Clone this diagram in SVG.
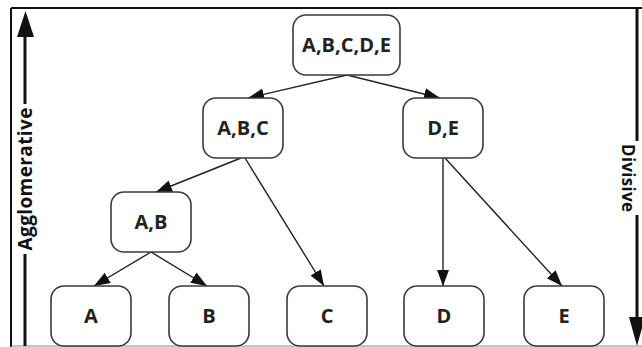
<svg xmlns="http://www.w3.org/2000/svg" width="642" height="347" viewBox="0 0 642 347">
<defs>
<style>
.box{fill:#fff;stroke:#3a3a3a;stroke-width:1.6}
.lbl{font-family:"Open Sans","Liberation Sans",sans-serif;font-weight:700;font-size:20px;fill:#222;text-anchor:middle}
.edge{stroke:#222;stroke-width:1.4;fill:none;marker-end:url(#ah)}
.axis{stroke:#111;stroke-width:3;fill:none}
.axlbl{font-family:"Open Sans","Liberation Sans",sans-serif;font-weight:700;font-size:19px;fill:#111;text-anchor:middle}
</style>
<marker id="ah" markerUnits="userSpaceOnUse" markerWidth="17" markerHeight="13" refX="16" refY="6.5" orient="auto">
<path d="M0,0.5 L16,6.5 L0,12.5 Z" fill="#111"/>
</marker>
</defs>
<rect x="0" y="0" width="642" height="347" fill="#fff"/>
<g id="frame">
<line x1="11" y1="8" x2="642" y2="8" stroke="#111" stroke-width="2"/>
<line x1="11" y1="8" x2="11" y2="347" stroke="#111" stroke-width="2"/>
<line x1="11" y1="346" x2="642" y2="346" stroke="#888" stroke-width="1"/>
</g>
<g id="agglomerative">
<polygon points="17,37 34,37 25.5,11" fill="#111"/>
<line class="axis" x1="25" y1="36" x2="25" y2="104"/>
<line class="axis" x1="25" y1="254" x2="25" y2="346"/>
<text class="axlbl" transform="translate(32,179) rotate(-90)" textLength="143" lengthAdjust="spacing">Agglomerative</text>
</g>
<g id="divisive">
<line class="axis" x1="637" y1="8" x2="637" y2="141"/>
<line class="axis" x1="637" y1="215" x2="637" y2="320"/>
<polygon points="629,317 645,317 637,346" fill="#111"/>
<text class="axlbl" style="font-size:17px" transform="translate(622,178) rotate(90)" textLength="68" lengthAdjust="spacing">Divisive</text>
</g>
<g id="connectors">
<line class="edge" x1="347" y1="75" x2="248" y2="98"/>
<line class="edge" x1="347" y1="75" x2="440" y2="98"/>
<line class="edge" x1="241" y1="158" x2="156" y2="192"/>
<line class="edge" x1="245" y1="158" x2="324" y2="286"/>
<line class="edge" x1="443" y1="158" x2="443" y2="286"/>
<line class="edge" x1="445" y1="158" x2="562" y2="286"/>
<line class="edge" x1="151" y1="252" x2="94" y2="286"/>
<line class="edge" x1="151" y1="252" x2="207" y2="286"/>
</g>
<g id="n-abcde"><rect class="box" x="293" y="15" width="107" height="60" rx="13"/><text class="lbl" x="346.5" y="52">A,B,C,D,E</text></g>
<g id="n-abc"><rect class="box" x="203" y="98" width="80" height="60" rx="13"/><text class="lbl" x="243" y="135">A,B,C</text></g>
<g id="n-de"><rect class="box" x="403" y="98" width="80" height="60" rx="13"/><text class="lbl" x="443" y="135">D,E</text></g>
<g id="n-ab"><rect class="box" x="111" y="192" width="80" height="60" rx="13"/><text class="lbl" x="151" y="229">A,B</text></g>
<g id="n-a"><rect class="box" x="51" y="286" width="80" height="60" rx="13"/><text class="lbl" x="91" y="323">A</text></g>
<g id="n-b"><rect class="box" x="169" y="286" width="80" height="60" rx="13"/><text class="lbl" x="209" y="323">B</text></g>
<g id="n-c"><rect class="box" x="287" y="286" width="80" height="60" rx="13"/><text class="lbl" x="327" y="323">C</text></g>
<g id="n-d"><rect class="box" x="404" y="286" width="80" height="60" rx="13"/><text class="lbl" x="444" y="323">D</text></g>
<g id="n-e"><rect class="box" x="524" y="286" width="80" height="60" rx="13"/><text class="lbl" x="564" y="323">E</text></g>
</svg>
